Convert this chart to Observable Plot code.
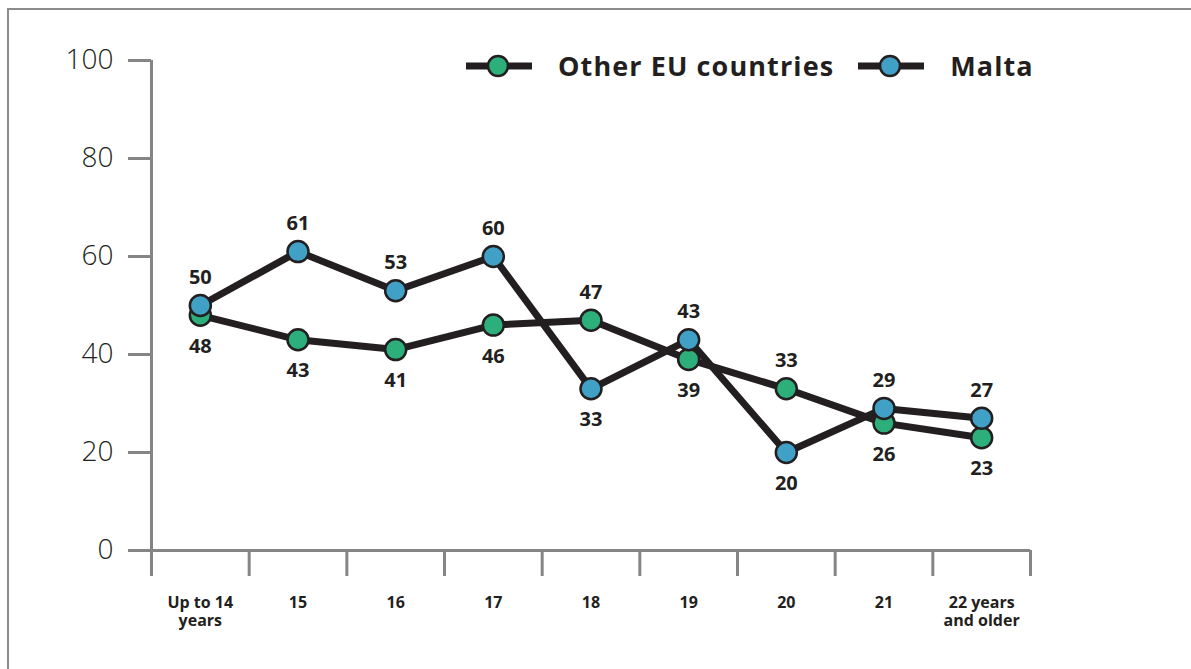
<!DOCTYPE html>
<html>
<head>
<meta charset="utf-8">
<script src="https://cdn.jsdelivr.net/npm/d3@7"></script>
<script src="https://cdn.jsdelivr.net/npm/@observablehq/plot@0.6"></script>
<style>
  html, body { margin: 0; padding: 0; background: #fff; }
  #wrap { position: relative; width: 1191px; height: 669px; overflow: hidden; font-family: "Open Sans", sans-serif; }
  #frame { position: absolute; left: 7px; top: 8px; right: -10px; bottom: -10px; border-top: 2px solid #8c8c8c; border-left: 2px solid #8c8c8c; }
  #chart { position: absolute; left: 0; top: 0; }
  #legend { position: absolute; left: 466px; top: 47px; display: flex; align-items: center; font-weight: 700; font-size: 27px; letter-spacing: 1.1px; color: #231f20; }
  #legend .item { display: flex; align-items: center; }
  #legend svg { display: block; margin-right: 26px; }
  #legend .item + .item { margin-left: 24px; }
</style>
</head>
<body>
<div id="wrap">
  <div id="frame"></div>
  <div id="chart"></div>
  <div id="legend"></div>
</div>
<script>
// ---- Data ----
const categories = ["Up to 14\nyears", "15", "16", "17", "18", "19", "20", "21", "22 years\nand older"];
const otherEU = [48, 43, 41, 46, 47, 39, 33, 26, 23];
const malta = [50, 61, 53, 60, 33, 43, 20, 29, 27];
const seriesNames = ["Other EU countries", "Malta"];
const seriesColors = ["#2daf7c", "#41a0c6"];
const yTicks = [0, 20, 40, 60, 80, 100];

// ---- Build table ----
const rows = [];
categories.forEach((c, i) => {
  rows.push({series: seriesNames[0], i, pos: i + 0.5, value: otherEU[i], top: otherEU[i] >= malta[i]});
  rows.push({series: seriesNames[1], i, pos: i + 0.5, value: malta[i], top: malta[i] > otherEU[i]});
});
const other = rows.filter(d => d.series === seriesNames[0]);
const mal = rows.filter(d => d.series === seriesNames[1]);

const ink = "#231f20";
const axisGray = "#858585";

const plot = Plot.plot({
  width: 1191,
  height: 669,
  marginLeft: 151,
  marginRight: 161,
  marginTop: 60,
  marginBottom: 119,
  style: {background: "transparent", fontFamily: "'Open Sans', sans-serif", overflow: "visible"},
  x: {domain: [0, categories.length], axis: null},
  y: {domain: [0, 100], axis: null},
  marks: [
    // axes
    Plot.axisY({ticks: yTicks, tickSize: 23, tickPadding: 15, stroke: axisGray, strokeWidth: 3, fill: ink, fontSize: 28, fontWeight: 300, tickFormat: d => d, label: null}),
    Plot.axisX({ticks: d3.range(0, categories.length + 1), tickSize: 26, tickFormat: () => "", stroke: axisGray, strokeWidth: 3, label: null}),
    Plot.axisX({ticks: d3.range(categories.length).map(i => i + 0.5), tickSize: 0, tickPadding: 45, label: null,
      tickFormat: d => categories[Math.floor(d)], fill: ink, fontSize: 16, fontWeight: 700, lineHeight: 1.1,
      style: {letterSpacing: "0.6px"}}),
    Plot.ruleX([0], {y1: 100, y2: 0, stroke: axisGray, strokeWidth: 3}),
    Plot.ruleY([0], {stroke: axisGray, strokeWidth: 3}),
    // series
    Plot.line(other, {x: "pos", y: "value", stroke: ink, strokeWidth: 7}),
    Plot.dot(other, {x: "pos", y: "value", r: 10.5, fill: seriesColors[0], stroke: ink, strokeWidth: 2.5}),
    Plot.line(mal, {x: "pos", y: "value", stroke: ink, strokeWidth: 7}),
    Plot.dot(mal, {x: "pos", y: "value", r: 10.5, fill: seriesColors[1], stroke: ink, strokeWidth: 2.5}),
    // value labels
    Plot.text(rows.filter(d => d.top), {x: "pos", y: "value", text: d => String(d.value), dy: -28, fill: ink, fontSize: 20, fontWeight: 700, style: {letterSpacing: "1.2px"}}),
    Plot.text(rows.filter(d => !d.top), {x: "pos", y: "value", text: d => String(d.value), dy: 31, fill: ink, fontSize: 20, fontWeight: 700, style: {letterSpacing: "1.2px"}})
  ]
});
document.getElementById("chart").appendChild(plot);

// ---- Legend ----
const legend = document.getElementById("legend");
seriesNames.forEach((name, k) => {
  const item = document.createElement("div");
  item.className = "item";
  item.innerHTML = `<svg width="66" height="26" viewBox="0 0 66 26">
      <line x1="0" y1="13" x2="66" y2="13" stroke="${ink}" stroke-width="7"/>
      <circle cx="32" cy="13" r="10" fill="${seriesColors[k]}" stroke="${ink}" stroke-width="2.5"/>
    </svg><span>${name}</span>`;
  legend.appendChild(item);
});
</script>
</body>
</html>
